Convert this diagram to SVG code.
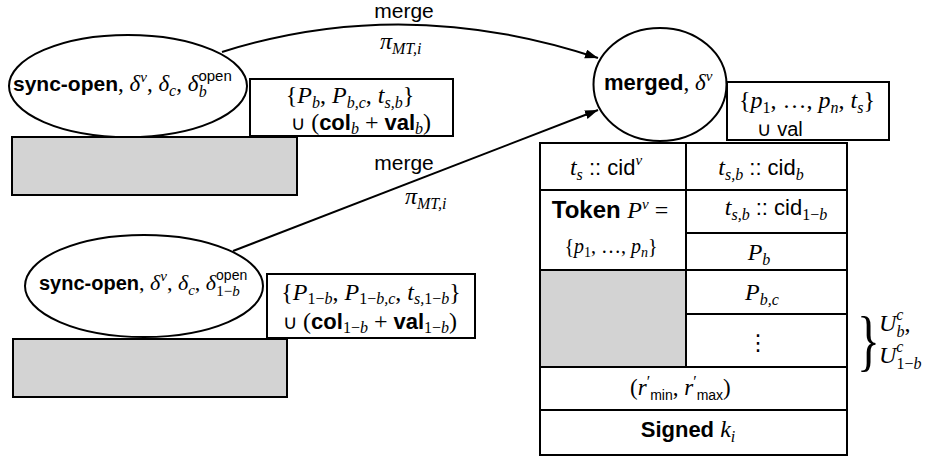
<svg xmlns="http://www.w3.org/2000/svg" width="933" height="458" viewBox="0 0 933 458">
<defs>
<marker id="arr" markerUnits="userSpaceOnUse" markerWidth="14" markerHeight="10" refX="13" refY="4.5" orient="auto">
<path d="M0,0 L13,4.5 L0,9 z" fill="#000"/>
</marker>
<style>
.shape{fill:#fff;stroke:#000;stroke-width:2}
.gray{fill:#d3d3d3;stroke:#000;stroke-width:2}
.ln{stroke:#000;stroke-width:2;fill:none}
.edge{stroke:#000;stroke-width:2;fill:none;marker-end:url(#arr)}
text{fill:#000}
.sans{font-family:"Liberation Sans","DejaVu Sans",sans-serif;font-style:normal;font-weight:normal}
.bold{font-family:"Liberation Sans","DejaVu Sans",sans-serif;font-weight:bold;font-style:normal}
.it{font-family:"Liberation Serif","DejaVu Serif",serif;font-style:italic;font-weight:normal}
.rm{font-family:"Liberation Serif","DejaVu Serif",serif;font-style:normal;font-weight:normal}
</style>
</defs>
<rect width="933" height="458" fill="#fff"/>

<g id="connectors">
<path class="edge" d="M222,52 Q405,-6 598,58"/>
<path class="edge" d="M233,251 L598,110"/>
<text class="sans" x="404" y="18" font-size="21" text-anchor="middle">merge</text>
<text x="380" y="49" font-size="24"><tspan class="it">π</tspan><tspan class="it" font-size="16" dy="5">MT,i</tspan></text>
<text class="sans" x="404" y="170" font-size="21" text-anchor="middle">merge</text>
<text x="405" y="204" font-size="24"><tspan class="it">π</tspan><tspan class="it" font-size="16" dy="5">MT,i</tspan></text>
</g>

<g id="sync-open-b">
<rect class="gray" x="12" y="137" width="285" height="58"/>
<ellipse class="shape" cx="128" cy="86" rx="119" ry="51"/>
<text x="13" y="91" font-size="21"><tspan class="bold">sync-open</tspan><tspan class="rm" font-size="23">, </tspan><tspan class="it" font-size="23">δ</tspan><tspan class="it" font-size="15" dy="-9">v</tspan><tspan class="rm" font-size="23" dy="9">, </tspan><tspan class="it" font-size="23">δ</tspan><tspan class="it" font-size="16" dy="5">c</tspan><tspan class="rm" font-size="23" dy="-5">, </tspan><tspan class="it" font-size="23">δ</tspan><tspan class="sans" font-size="15" dy="-10">open</tspan><tspan class="it" font-size="16" dx="-33" dy="16">b</tspan></text>
</g>

<g id="box-b">
<rect class="shape" x="250" y="79" width="203" height="57"/>
<text class="rm" x="350" y="103" font-size="24" text-anchor="middle">{<tspan class="it">P</tspan><tspan class="it" font-size="16" dy="5">b</tspan><tspan dy="-5">, </tspan><tspan class="it">P</tspan><tspan class="it" font-size="16" dy="5">b,c</tspan><tspan dy="-5">, </tspan><tspan class="it">t</tspan><tspan class="it" font-size="16" dy="5">s,b</tspan><tspan dy="-5">}</tspan></text>
<text class="rm" x="361" y="130" font-size="24" text-anchor="middle"><tspan class="sans" font-size="20">∪ </tspan>(<tspan class="bold" font-size="22">col</tspan><tspan class="it" font-size="16" dy="4">b</tspan><tspan dy="-4"> + </tspan><tspan class="bold" font-size="22">val</tspan><tspan class="it" font-size="16" dy="4">b</tspan><tspan dy="-4">)</tspan></text>
</g>

<g id="sync-open-1-b">
<rect class="gray" x="13" y="339" width="274" height="58"/>
<ellipse class="shape" cx="144" cy="286" rx="119" ry="51"/>
<text x="39" y="290" font-size="20"><tspan class="bold">sync-open</tspan><tspan class="rm" font-size="22">, </tspan><tspan class="it" font-size="22">δ</tspan><tspan class="it" font-size="15" dy="-9">v</tspan><tspan class="rm" font-size="22" dy="9">, </tspan><tspan class="it" font-size="22">δ</tspan><tspan class="it" font-size="15" dy="5">c</tspan><tspan class="rm" font-size="22" dy="-5">, </tspan><tspan class="it" font-size="22">δ</tspan><tspan class="sans" font-size="14" dy="-10">open</tspan><tspan class="rm" font-size="15" dx="-31" dy="16">1−</tspan><tspan class="it" font-size="15">b</tspan></text>
</g>

<g id="box-1-b">
<rect class="shape" x="267" y="274" width="208" height="64"/>
<text class="rm" x="371" y="300" font-size="24" text-anchor="middle">{<tspan class="it">P</tspan><tspan font-size="16" dy="4">1−</tspan><tspan class="it" font-size="16">b</tspan><tspan dy="-4">, </tspan><tspan class="it">P</tspan><tspan font-size="16" dy="4">1−</tspan><tspan class="it" font-size="16">b,c</tspan><tspan dy="-4">, </tspan><tspan class="it">t</tspan><tspan class="it" font-size="16" dy="4">s,</tspan><tspan font-size="16">1−</tspan><tspan class="it" font-size="16">b</tspan><tspan dy="-4">}</tspan></text>
<text class="rm" x="370" y="329" font-size="24" text-anchor="middle"><tspan class="sans" font-size="20">∪ </tspan>(<tspan class="bold" font-size="22">col</tspan><tspan font-size="16" dy="4">1−</tspan><tspan class="it" font-size="16">b</tspan><tspan dy="-4"> + </tspan><tspan class="bold" font-size="22">val</tspan><tspan font-size="16" dy="4">1−</tspan><tspan class="it" font-size="16">b</tspan><tspan dy="-4">)</tspan></text>
</g>

<g id="merged">
<ellipse class="shape" cx="660" cy="84.5" rx="66.5" ry="56.5"/>
<text x="604" y="90" font-size="22"><tspan class="bold">merged</tspan><tspan class="rm" font-size="23">, </tspan><tspan class="it" font-size="23">δ</tspan><tspan class="it" font-size="15" dy="-9">v</tspan></text>
</g>

<g id="box-merged">
<rect class="shape" x="727" y="82" width="162" height="58"/>
<text class="rm" x="807" y="108" font-size="24" text-anchor="middle">{<tspan class="it">p</tspan><tspan font-size="16" dy="5">1</tspan><tspan dy="-5">, …, </tspan><tspan class="it">p</tspan><tspan class="it" font-size="16" dy="5">n</tspan><tspan dy="-5">, </tspan><tspan class="it">t</tspan><tspan class="it" font-size="16" dy="5">s</tspan><tspan dy="-5">}</tspan></text>
<text class="sans" x="757" y="136" font-size="20">∪ val</text>
</g>

<g id="table">
<rect class="gray" x="540" y="270" width="146" height="97"/>
<rect x="540" y="143" width="307" height="312" fill="none" stroke="#000" stroke-width="2"/>
<path class="ln" d="M686,143 V367 M540,190 H847 M686,233 H847 M540,270 H847 M686,314 H847 M540,367 H847 M540,410 H847"/>
<text class="it" x="606" y="175" font-size="24" text-anchor="middle">t<tspan font-size="16" dy="5">s</tspan><tspan class="sans" font-size="22" dy="-5"> :: cid</tspan><tspan font-size="15" dy="-10">v</tspan></text>
<text class="it" x="761" y="175" font-size="24" text-anchor="middle">t<tspan font-size="16" dy="5">s,b</tspan><tspan class="sans" font-size="22" dy="-5"> :: cid</tspan><tspan font-size="16" dy="5">b</tspan></text>
<text x="610" y="218" font-size="24" text-anchor="middle"><tspan class="bold">Token </tspan><tspan class="it">P</tspan><tspan class="it" font-size="15" dy="-9">v</tspan><tspan class="rm" dy="9"> =</tspan></text>
<text class="rm" x="611" y="253" font-size="20" text-anchor="middle">{<tspan class="it">p</tspan><tspan font-size="14" dy="4">1</tspan><tspan dy="-4">, …, </tspan><tspan class="it">p</tspan><tspan class="it" font-size="14" dy="4">n</tspan><tspan dy="-4">}</tspan></text>
<text class="it" x="776" y="215" font-size="24" text-anchor="middle">t<tspan font-size="16" dy="5">s,b</tspan><tspan class="sans" font-size="22" dy="-5"> :: cid</tspan><tspan class="rm" font-size="16" dy="5">1−</tspan><tspan font-size="16">b</tspan></text>
<text class="it" x="759" y="260" font-size="24" text-anchor="middle">P<tspan font-size="16" dy="5">b</tspan></text>
<text class="it" x="762" y="300" font-size="24" text-anchor="middle">P<tspan font-size="16" dy="5">b,c</tspan></text>
<text class="sans" x="758" y="350" font-size="22" text-anchor="middle">⋮</text>
<text class="rm" x="630" y="395" font-size="23">(<tspan class="it">r</tspan><tspan font-size="16" dy="-8">′</tspan><tspan class="sans" font-size="14" dy="13">min</tspan><tspan dy="-5">, </tspan><tspan class="it">r</tspan><tspan font-size="16" dy="-8">′</tspan><tspan class="sans" font-size="14" dy="13">max</tspan><tspan dy="-5">)</tspan></text>
<text x="688" y="437" font-size="22" text-anchor="middle"><tspan class="bold">Signed </tspan><tspan class="it" font-size="24">k</tspan><tspan class="it" font-size="16" dy="5">i</tspan></text>
</g>

<g id="brace-label">
<text class="rm" transform="translate(857,363) scale(0.7,1)" font-size="68">}</text>
<text class="it" x="879" y="331" font-size="24">U<tspan font-size="16" dy="-11">c</tspan><tspan font-size="16" dx="-7" dy="17">b</tspan><tspan class="rm" dy="-6">,</tspan></text>
<text class="it" x="879" y="363" font-size="24">U<tspan font-size="16" dy="-11">c</tspan><tspan class="rm" font-size="16" dx="-7" dy="17">1−</tspan><tspan font-size="16">b</tspan></text>
</g>
</svg>
